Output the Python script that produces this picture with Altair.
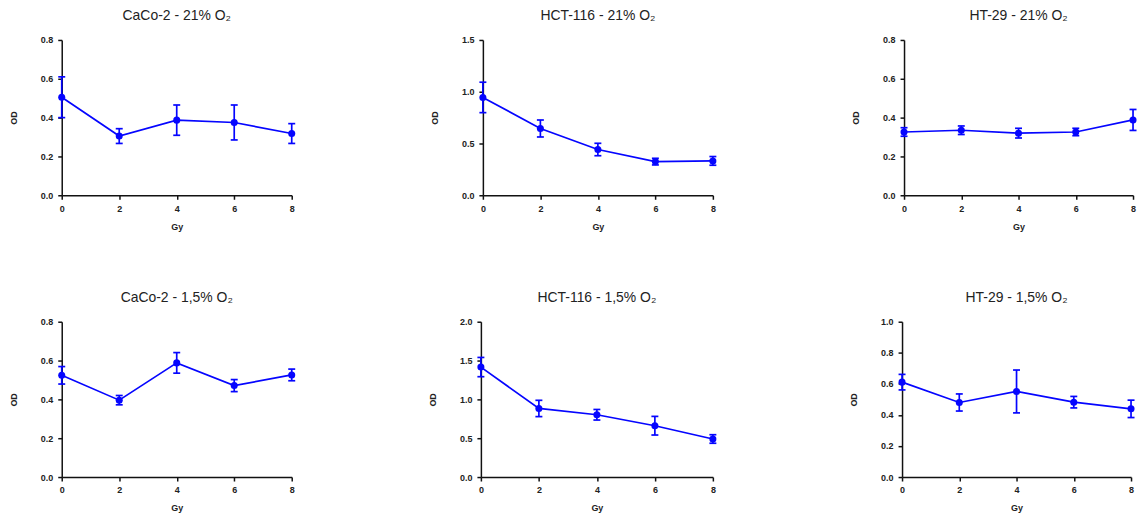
import altair as alt
import pandas as pd

BLUE = "#0505ff"
FONT = "Liberation Sans"

doses = [0, 2, 4, 6, 8]

titles = [
    "CaCo-2 - 21% O₂",
    "HCT-116 - 21% O₂",
    "HT-29 - 21% O₂",
    "CaCo-2 - 1,5%  O₂",
    "HCT-116 - 1,5% O₂",
    "HT-29 - 1,5% O₂",
]

caco2_21_mean = [0.505, 0.305, 0.387, 0.375, 0.318]
caco2_21_err = [0.105, 0.038, 0.078, 0.090, 0.051]
hct116_21_mean = [0.945, 0.645, 0.442, 0.325, 0.332]
hct116_21_err = [0.147, 0.082, 0.060, 0.032, 0.042]
ht29_21_mean = [0.326, 0.335, 0.320, 0.326, 0.388]
ht29_21_err = [0.022, 0.022, 0.025, 0.019, 0.054]
caco2_15_mean = [0.524, 0.396, 0.588, 0.471, 0.526]
caco2_15_err = [0.045, 0.024, 0.053, 0.031, 0.030]
hct116_15_mean = [1.416, 0.883, 0.802, 0.661, 0.490]
hct116_15_err = [0.124, 0.105, 0.068, 0.120, 0.055]
ht29_15_mean = [0.611, 0.480, 0.551, 0.482, 0.439]
ht29_15_err = [0.050, 0.055, 0.138, 0.037, 0.056]

means = [caco2_21_mean, hct116_21_mean, ht29_21_mean,
         caco2_15_mean, hct116_15_mean, ht29_15_mean]
errs = [caco2_21_err, hct116_21_err, ht29_21_err,
        caco2_15_err, hct116_15_err, ht29_15_err]

y_max = [0.8, 1.5, 0.8, 0.8, 2.0, 1.0]
y_ticks = [
    [0.0, 0.2, 0.4, 0.6, 0.8],
    [0.0, 0.5, 1.0, 1.5],
    [0.0, 0.2, 0.4, 0.6, 0.8],
    [0.0, 0.2, 0.4, 0.6, 0.8],
    [0.0, 0.5, 1.0, 1.5, 2.0],
    [0.0, 0.2, 0.4, 0.6, 0.8, 1.0],
]


def panel(i, w, h=156):
    df = pd.DataFrame({
        "Gy": doses,
        "OD": means[i],
        "lo": [m - e for m, e in zip(means[i], errs[i])],
        "hi": [m + e for m, e in zip(means[i], errs[i])],
    })
    base = alt.Chart(df)
    xs = alt.Scale(domain=[0, 8], nice=False)
    ys = alt.Scale(domain=[0, y_max[i]], nice=False)
    xa = alt.Axis(values=doses, title="Gy", format="d")
    ya = alt.Axis(values=y_ticks[i], format=".1f", title="OD")

    def X():
        return alt.X("Gy:Q", scale=xs, axis=xa)

    def Y(field):
        return alt.Y(field + ":Q", scale=ys, axis=ya)

    line = base.mark_line(color=BLUE, strokeWidth=1.7).encode(x=X(), y=Y("OD"))
    rule = base.mark_rule(color=BLUE, strokeWidth=1.7).encode(
        x=X(), y=Y("lo"), y2="hi:Q")
    cap_lo = base.mark_tick(color=BLUE, orient="horizontal", size=7,
                            thickness=1.7, opacity=1).encode(x=X(), y=Y("lo"))
    cap_hi = base.mark_tick(color=BLUE, orient="horizontal", size=7,
                            thickness=1.7, opacity=1).encode(x=X(), y=Y("hi"))
    pts = base.mark_circle(color=BLUE, size=50, opacity=1).encode(
        x=X(), y=Y("OD"))
    return alt.layer(line, rule, cap_lo, cap_hi, pts).properties(
        width=w, height=h, title=titles[i])


top = alt.hconcat(panel(0, 231), panel(1, 231), panel(2, 230), spacing=135)
bottom = alt.hconcat(panel(3, 231), panel(4, 233), panel(5, 230), spacing=133)

chart = alt.vconcat(top, bottom, spacing=60).properties(
    padding={"left": 9, "top": 8, "right": 2, "bottom": 2}
).configure_view(stroke=None).configure_axis(
    grid=False,
    domainColor="#111",
    domainWidth=1.5,
    tickColor="#111",
    tickWidth=1.5,
    tickSize=4,
    labelFont=FONT,
    labelFontSize=9,
    labelFontWeight="bold",
    labelColor="#222",
    labelPadding=5,
    labelOverlap=False,
    labelFlush=False,
    titleFont=FONT,
    titleFontSize=9,
    titleFontWeight="bold",
    titleColor="#222",
).configure_axisY(
    titlePadding=22,
).configure_axisX(
    titlePadding=9,
).configure_title(
    font=FONT,
    fontSize=14,
    fontWeight="normal",
    color="#222",
    anchor="middle",
    offset=13,
)

chart.save("out.html", embed_options={"renderer": "svg", "actions": False})
